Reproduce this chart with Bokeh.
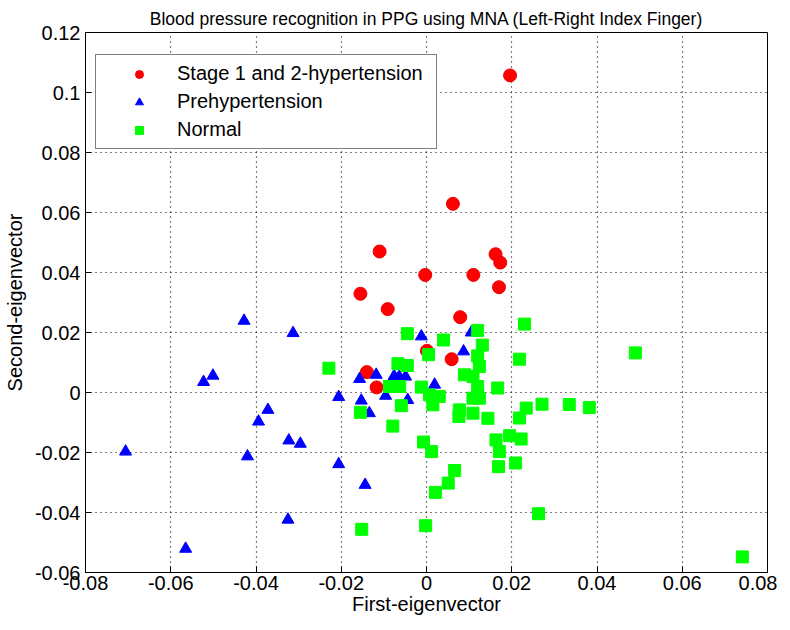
from bokeh.plotting import figure
from bokeh.models import FixedTicker, CustomJSTickFormatter, Range1d
from bokeh.embed import file_html
from bokeh.resources import INLINE

# ---- data ----
red_x = [0.0196, 0.0062, -0.0110, 0.0162, 0.0173, -0.0003, 0.0110, 0.0170, -0.0155,
         -0.0091, 0.0079, 0.0059, 0.0001, -0.0140, -0.0117]
red_y = [0.1057, 0.0629, 0.0470, 0.0461, 0.0433, 0.0392, 0.0392, 0.0351, 0.0329,
         0.0278, 0.0251, 0.0111, 0.0139, 0.0068, 0.0017]

blue_x = [-0.0428, -0.0313, -0.0523, -0.0501, -0.0372, -0.0394, -0.0706, -0.0420, -0.0323,
          -0.0296, -0.0325, -0.0565, -0.0206, -0.0144, -0.0012, 0.0087, 0.0105, -0.0157,
          -0.0118, -0.0076, -0.0064, -0.0049, -0.0096, -0.0206, -0.0153, -0.0134, -0.0044,
          0.0019]
blue_y = [0.0239, 0.0198, 0.0035, 0.0056, -0.0058, -0.0097, -0.0197, -0.0213, -0.0160,
          -0.0171, -0.0424, -0.0521, -0.0239, -0.0308, 0.0187, 0.0137, 0.0200, 0.0045,
          0.0059, 0.0055, 0.0053, 0.0053, -0.0011, -0.0015, -0.0027, -0.0069, -0.0025,
          0.0026]

green_x = [-0.0229, -0.0045, 0.0040, 0.0120, 0.0131, 0.0230, 0.0218, 0.0490, 0.0005,
           -0.0067, -0.0045, 0.0120, 0.0124, 0.0089, 0.0109, 0.0120, 0.0167, -0.0087,
           -0.0063, -0.0012, 0.0007, 0.0030, 0.0015, -0.0059, -0.0155, -0.0079, 0.0077,
           0.0076, 0.0109, 0.0144, 0.0109, 0.0124, 0.0234, 0.0271, 0.0218, 0.0335,
           0.0382, 0.0263, 0.0741, -0.0002, -0.0152, 0.0021, 0.0051, 0.0066, -0.0007,
           0.0012, 0.0163, 0.0171, 0.0169, 0.0209, 0.0195, 0.0222]
green_y = [0.0081, 0.0196, 0.0175, 0.0207, 0.0158, 0.0228, 0.0111, 0.0132, 0.0126,
           0.0096, 0.0090, 0.0122, 0.0087, 0.0059, 0.0053, 0.0020, 0.0015, 0.0020,
           0.0020, 0.0018, -0.0008, -0.0013, -0.0041, -0.0044, -0.0066, -0.0112, -0.0058,
           -0.0080, -0.0069, -0.0086, -0.0019, -0.0019, -0.0052, -0.0039, -0.0085, -0.0040,
           -0.0050, -0.0404, -0.0548, -0.0444, -0.0456, -0.0333, -0.0302, -0.0260, -0.0165,
           -0.0197, -0.0158, -0.0197, -0.0247, -0.0235, -0.0144, -0.0155]

x_ticks = [-0.08, -0.06, -0.04, -0.02, 0, 0.02, 0.04, 0.06, 0.08]
y_ticks = [-0.06, -0.04, -0.02, 0, 0.02, 0.04, 0.06, 0.08, 0.1, 0.12]

labels = ["Stage 1 and 2-hypertension", "Prehypertension", "Normal"]
title_text = "Blood pressure recognition in PPG using MNA (Left-Right Index Finger)"

FONT = "Liberation Sans"
FS = "20px"

p = figure(frame_width=682, frame_height=540,
           x_range=Range1d(-0.08, 0.08), y_range=Range1d(-0.06, 0.12),
           output_backend="svg", toolbar_location=None,
           min_border_left=80, min_border_right=10, min_border_top=32, min_border_bottom=40,
           background_fill_color="white", border_fill_color="white")

p.title.text = title_text
p.title.align = "center"
p.title.text_font = FONT
p.title.text_font_size = "17.5px"
p.title.text_font_style = "normal"
p.title.text_color = "black"
p.title.standoff = 7

fmt = CustomJSTickFormatter(code="return (Math.round(tick*100)/100).toString();")
for ax in (p.xaxis[0], p.yaxis[0]):
    ax.formatter = fmt
    ax.major_tick_in = 6
    ax.major_tick_out = 0
    ax.minor_tick_line_color = None
    ax.axis_line_color = "black"
    ax.major_tick_line_color = "black"
    ax.major_label_text_font = FONT
    ax.major_label_text_font_size = FS
    ax.major_label_text_color = "black"
    ax.axis_label_text_font = FONT
    ax.axis_label_text_font_size = FS
    ax.axis_label_text_font_style = "normal"
    ax.axis_label_text_color = "black"
p.xaxis[0].ticker = FixedTicker(ticks=x_ticks)
p.yaxis[0].ticker = FixedTicker(ticks=y_ticks)
p.xaxis[0].axis_label = "First-eigenvector"
p.yaxis[0].axis_label = "Second-eigenvector"
p.xaxis[0].major_label_standoff = 3
p.xaxis[0].axis_label_standoff = 0
p.yaxis[0].major_label_standoff = 5
p.yaxis[0].axis_label_standoff = 6

p.xgrid.ticker = FixedTicker(ticks=x_ticks)
p.ygrid.ticker = FixedTicker(ticks=y_ticks)
for g in (p.xgrid[0], p.ygrid[0]):
    g.grid_line_color = "black"
    g.grid_line_dash = "1 4"
    g.grid_line_width = 1.2

p.outline_line_color = "black"
p.outline_line_width = 1

p.scatter(red_x, red_y, marker="circle", size=13, fill_color="#ff0000",
          line_color="#ee0000", legend_label=labels[0])
p.scatter(blue_x, blue_y, marker="triangle", size=12, fill_color="#0000ff",
          line_color="#0000ff", legend_label=labels[1])
p.scatter(green_x, green_y, marker="square", size=12, fill_color="#00ff00",
          line_color="#00ff00", legend_label=labels[2])

lg = p.legend[0]
lg.location = (10, 423)
lg.border_line_color = "black"
lg.border_line_width = 1.5
lg.background_fill_color = "white"
lg.background_fill_alpha = 1
lg.padding = 7
lg.spacing = 5
lg.margin = 0
lg.glyph_width = 72
lg.glyph_height = 20
lg.label_height = 20
lg.label_standoff = 2
lg.label_width = 252
lg.label_text_font = FONT
lg.label_text_font_size = FS
lg.label_text_color = "black"

open("out.html", "w").write(file_html(p, INLINE))
